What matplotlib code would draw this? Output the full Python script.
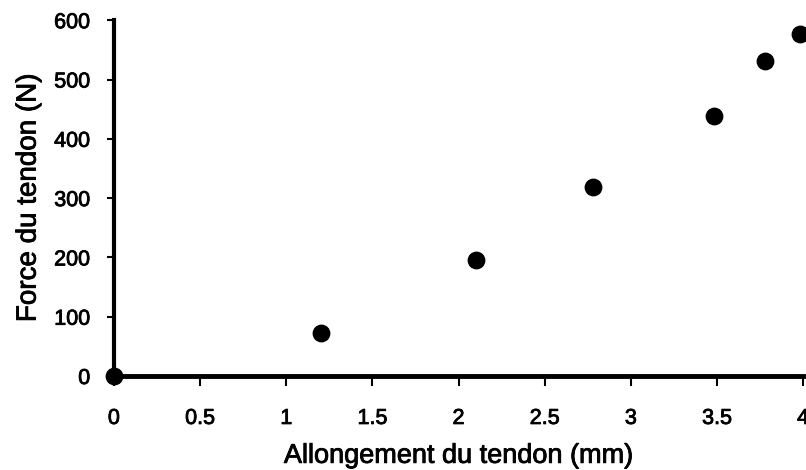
import numpy as np
import matplotlib.pyplot as plt
import matplotlib.patheffects as pe

plt.rcParams['font.family'] = ['Liberation Sans', 'DejaVu Sans']

# allongement (mm) et force (N)
allongement = [0, 1.2, 2.1, 2.78, 3.48, 3.78, 3.98]
force = [0, 73, 195, 318, 438, 531, 576]

fig = plt.figure(figsize=(8.06, 4.70), dpi=100)
ax = fig.add_axes([0.1414, 0.2, 0.855, 0.757])

ax.scatter(allongement, force, s=140, color='black', zorder=3, clip_on=False)

ax.set_xlim(0, 4)
ax.set_ylim(0, 600)
ax.set_xticks([0, 0.5, 1, 1.5, 2, 2.5, 3, 3.5, 4])
ax.set_xticklabels(['0', '0.5', '1', '1.5', '2', '2.5', '3', '3.5', '4'])
ax.set_yticks([0, 100, 200, 300, 400, 500, 600])

for s in ['top', 'right']:
    ax.spines[s].set_visible(False)
ax.spines['left'].set_linewidth(3)
ax.spines['bottom'].set_linewidth(3.5)

ax.tick_params(axis='x', direction='out', length=7, width=1.5, pad=16, labelsize=15.5)
ax.tick_params(axis='y', direction='out', length=5, width=1.5, pad=12, labelsize=15.5)

ax.set_xlabel('Allongement du tendon (mm)', fontsize=19.5, labelpad=10)
ax.set_ylabel('Force du tendon (N)', fontsize=20, labelpad=9)

# texte un peu plus epais, comme sur le scan
epais = [pe.withStroke(linewidth=0.6, foreground='black')]
for t in ax.get_xticklabels() + ax.get_yticklabels() + [ax.xaxis.label, ax.yaxis.label]:
    t.set_path_effects(epais)

fig.savefig('out.png', dpi=100)
